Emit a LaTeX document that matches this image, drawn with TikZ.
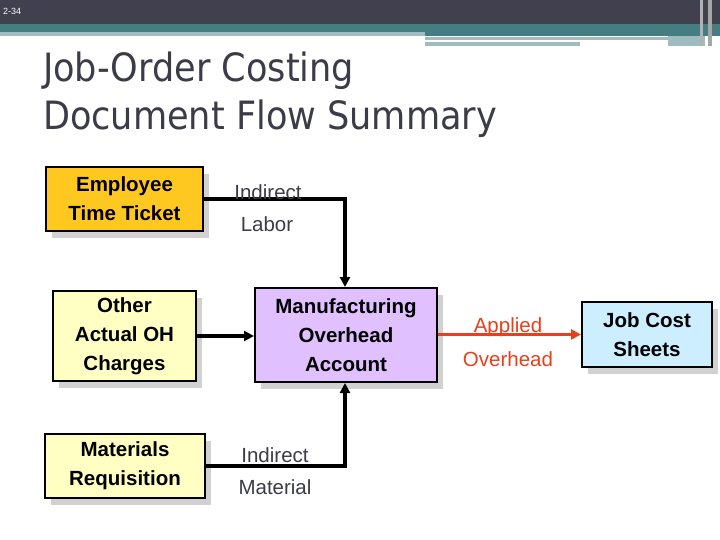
\documentclass[tikz,border=0pt]{standalone}
\usepackage{fontspec}
\setmainfont{Liberation Sans}
\newfontfamily\titlefont{DejaVu Sans Condensed}
\usetikzlibrary{arrows.meta}
\definecolor{hdr}{HTML}{40404F}
\definecolor{teal}{HTML}{457E82}
\definecolor{lteal}{HTML}{A0BCBE}
\definecolor{ytk}{HTML}{FFC820}
\definecolor{lyel}{HTML}{FFFFC4}
\definecolor{lav}{HTML}{E0C0FF}
\definecolor{lblue}{HTML}{CCEEFF}
\definecolor{redor}{HTML}{E8401C}
\definecolor{lbl}{HTML}{3C3C48}
\tikzset{
  box/.style={draw=black, line width=2pt, align=center, font=\bfseries\fontsize{20.5}{29}\selectfont, inner sep=0pt,
    preaction={fill=black!18, transform canvas={shift={(6pt,-7pt)}}}},
  lab/.style={text=lbl, font=\fontsize{20.5}{24}\selectfont},
  conn/.style={line width=3.5pt, -{Triangle[length=10pt,width=10pt]}}
}
\begin{document}
\begin{tikzpicture}[x=1pt,y=-1pt]
\useasboundingbox (0,0) rectangle (720,540);
\fill[white] (0,0) rectangle (720,540);
% header
\fill[hdr] (0,0) rectangle (720,24);
\fill[teal] (0,24) rectangle (720,36);
\fill[lteal] (0,32) rectangle (425,36);
\fill[lteal] (425,37) rectangle (668,40);
\fill[lteal] (425,42) rectangle (580,46);
\fill[lteal] (668,36) rectangle (705,46);
\fill[black!30] (700,0) rectangle (703,46);
\fill[black!35] (708,0) rectangle (712,46);
\node[anchor=west, text=white, font=\fontsize{9}{10}\selectfont, inner sep=0pt] (pg) at (3,11) {2-34};
% title
\node[anchor=base west, align=left, text=lbl, font=\titlefont\fontsize{39}{48}\selectfont, inner sep=0pt] (title) at (43,130) {Job-Order Costing\\Document Flow Summary};
% boxes
\node[box, fill=ytk, minimum width=157pt, minimum height=64pt] (emp) at (124.5,199) {Employee\\Time Ticket};
\node[box, fill=lyel, minimum width=143pt, minimum height=90pt] (oth) at (124.5,336) {Other\\Actual OH\\Charges};
\node[box, fill=lyel, minimum width=160pt, minimum height=64pt] (mat) at (125,466) {Materials\\Requisition};
\node[box, fill=lav, minimum width=182pt, minimum height=94pt] (moh) at (346,335) {Manufacturing\\Overhead\\Account};
\node[box, fill=lblue, minimum width=130pt, minimum height=65pt] (jcs) at (647,334.5) {Job Cost\\Sheets};
% connectors
\coordinate (c1) at (345,199);
\coordinate (c2) at (345,466);
\draw[conn] (emp.east) -- (c1) -- (moh.north -| c1);
\draw[conn] (oth.east) -- (oth.east -| moh.west);
\draw[conn] (mat.east) -- (c2) -- (moh.south -| c2);
\draw[conn, redor] (moh.east |- jcs.west) -- (jcs.west);
% labels
\node[lab] (l1) at (268,192) {Indirect};
\node[lab] (l2) at (267,224) {Labor};
\node[lab] (l3) at (275,455) {Indirect};
\node[lab] (l4) at (275,487) {Material};
\node[lab, text=redor] (l5) at (508,327) {Applied};
\node[lab, text=redor] (l6) at (508,359) {Overhead};
\end{tikzpicture}
\end{document}
